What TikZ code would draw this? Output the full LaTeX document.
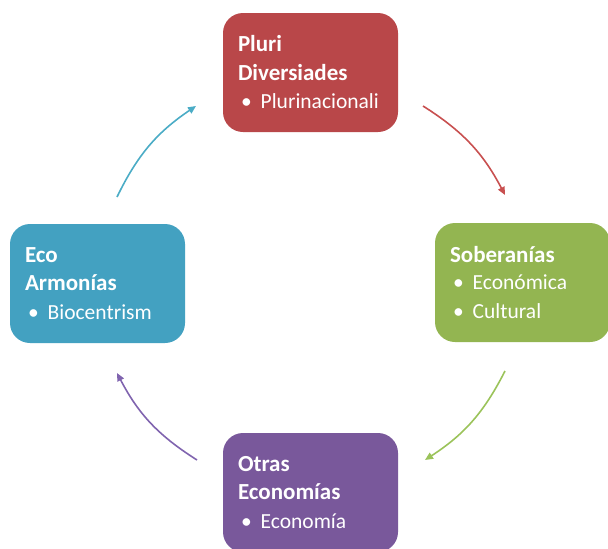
\documentclass[tikz,border=0pt]{standalone}
\usepackage{fontspec}
\setmainfont{Carlito}
\usetikzlibrary{arrows.meta}
\definecolor{rojo}{RGB}{185,71,73}
\definecolor{verde}{RGB}{147,181,81}
\definecolor{morado}{RGB}{121,88,155}
\definecolor{azul}{RGB}{67,161,193}
\definecolor{rojoclaro}{RGB}{200,80,80}
\definecolor{verdeclaro}{RGB}{155,195,90}
\definecolor{moradoclaro}{RGB}{128,100,175}
\definecolor{azulclaro}{RGB}{75,172,198}
\newcommand{\vineta}[1]{\fontsize{21.5}{27}\selectfont\mdseries\hspace{3pt}\textbullet\hspace{9pt}#1}
\begin{document}
\begin{tikzpicture}[x=1pt,y=-1pt,
    caja/.style={rounded corners=20pt,minimum width=175pt,minimum height=119pt,
        text width=145pt,align=left,text=white,inner sep=0pt,
        font=\fontsize{23}{28.5}\selectfont\bfseries},
    flecha/.style={line width=1.6pt,-{Triangle[length=8pt,width=7pt]}}]
    \useasboundingbox (0,0) rectangle (608,549);
    % cajas
    \node[caja,fill=rojo] (pluri) at (310.5,72.5) {Pluri\\Diversiades\\\vineta{Plurinacionali}};
    \node[caja,fill=verde] (sober) at (522.5,282.5) {Soberanías\\\vineta{Económica}\\\vineta{Cultural}};
    \node[caja,fill=morado] (otras) at (310.5,492.5) {Otras\\Economías\\\vineta{Economía}};
    \node[caja,fill=azul] (eco) at (97.5,283.5) {Eco\\Armonías\\\vineta{Biocentrism}};
    % flechas
    \coordinate (r1) at (423,106);
    \coordinate (r2) at (505,195);
    \coordinate (v1) at (505,371);
    \coordinate (v2) at (425,460);
    \coordinate (m1) at (197,460);
    \coordinate (m2) at (117,373);
    \coordinate (a1) at (117,197);
    \coordinate (a2) at (196,106);
    \draw[flecha,rojoclaro] (r1) to[bend left=15] (r2);
    \draw[flecha,verdeclaro] (v1) to[bend left=15] (v2);
    \draw[flecha,moradoclaro] (m1) to[bend left=15] (m2);
    \draw[flecha,azulclaro] (a1) to[bend left=15] (a2);
\end{tikzpicture}
\end{document}
